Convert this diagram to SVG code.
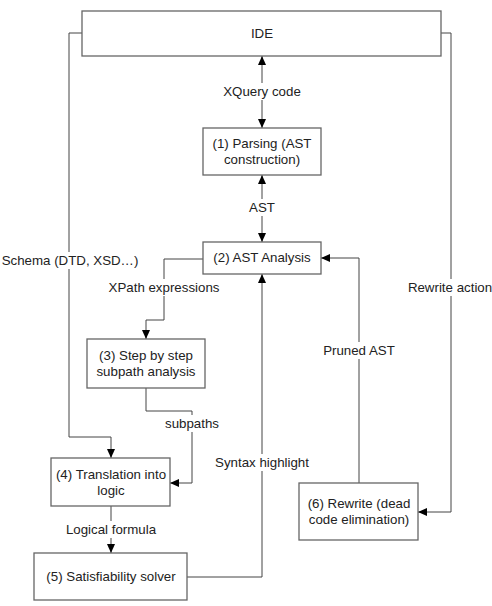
<svg xmlns="http://www.w3.org/2000/svg" width="492" height="606" viewBox="0 0 492 606">
<style>
.box{fill:#fff;stroke:#666;stroke-width:1.3}
.t{font-family:"Liberation Sans",Arial,sans-serif;font-size:13.3px;fill:#222;text-anchor:middle}
.ln{fill:none;stroke:#444;stroke-width:1}
.bg{fill:#fff}
</style>
<defs>
<marker id="ah" markerWidth="10" markerHeight="10" refX="9" refY="5" orient="auto-start-reverse" markerUnits="userSpaceOnUse">
<path d="M0,1 L9,5 L0,9 Z" fill="#000"/>
</marker>
</defs>
<rect width="492" height="606" fill="#fff"/>
<g id="connectors">
<path class="ln" d="M262,56 L262,128" marker-start="url(#ah)" marker-end="url(#ah)"/>
<path class="ln" d="M262,175 L262,242" marker-start="url(#ah)" marker-end="url(#ah)"/>
<path class="ln" d="M203,259 L164,259 L164,320 L146,320 L146,339" marker-end="url(#ah)"/>
<path class="ln" d="M146,388 L146,411 L192,411 L192,483 L170,483" marker-end="url(#ah)"/>
<path class="ln" d="M82,33 L69,33 L69,437 L111,437 L111,458" marker-end="url(#ah)"/>
<path class="ln" d="M111,506 L111,553" marker-end="url(#ah)"/>
<path class="ln" d="M187,577 L262,577 L262,274" marker-end="url(#ah)"/>
<path class="ln" d="M359,483 L359,258 L321,258" marker-end="url(#ah)"/>
<path class="ln" d="M441,33 L451,33 L451,512 L418,512" marker-end="url(#ah)"/>
<rect class="bg" x="218" y="83" width="88" height="17"/>
<text class="t" x="262" y="96">XQuery code</text>
<rect class="bg" x="246" y="199" width="32" height="17"/>
<text class="t" x="262" y="212">AST</text>
<rect class="bg" x="1" y="252" width="138" height="17"/>
<text class="t" x="70" y="265">Schema (DTD, XSD…)</text>
<rect class="bg" x="103" y="279" width="122" height="17"/>
<text class="t" x="164" y="292">XPath expressions</text>
<rect class="bg" x="404" y="279" width="88" height="17"/>
<text class="t" x="450" y="292">Rewrite action</text>
<rect class="bg" x="317" y="342" width="84" height="17"/>
<text class="t" x="359" y="355">Pruned AST</text>
<rect class="bg" x="160" y="415" width="64" height="17"/>
<text class="t" x="192" y="428">subpaths</text>
<rect class="bg" x="210" y="454" width="104" height="17"/>
<text class="t" x="262" y="467">Syntax highlight</text>
<rect class="bg" x="63" y="521" width="96" height="17"/>
<text class="t" x="111" y="534">Logical formula</text>
</g>
<g id="ide">
<rect class="box" x="82" y="11" width="359" height="45"/>
<text class="t" x="262" y="38">IDE</text>
</g>
<g id="parsing">
<rect class="box" x="203" y="128" width="118" height="47"/>
<text class="t" x="262" y="148">(1) Parsing (AST</text>
<text class="t" x="262" y="164">construction)</text>
</g>
<g id="analysis">
<rect class="box" x="203" y="242" width="118" height="32"/>
<text class="t" x="262" y="262">(2) AST Analysis</text>
</g>
<g id="subpath">
<rect class="box" x="87" y="339" width="118" height="49"/>
<text class="t" x="146" y="360">(3) Step by step</text>
<text class="t" x="146" y="376">subpath analysis</text>
</g>
<g id="translation">
<rect class="box" x="51" y="458" width="119" height="48"/>
<text class="t" x="111" y="479">(4) Translation into</text>
<text class="t" x="111" y="495">logic</text>
</g>
<g id="solver">
<rect class="box" x="34" y="553" width="153" height="47"/>
<text class="t" x="111" y="581">(5) Satisfiability solver</text>
</g>
<g id="rewrite">
<rect class="box" x="299" y="483" width="119" height="57"/>
<text class="t" x="359" y="508">(6) Rewrite (dead</text>
<text class="t" x="359" y="524">code elimination)</text>
</g>
</svg>
